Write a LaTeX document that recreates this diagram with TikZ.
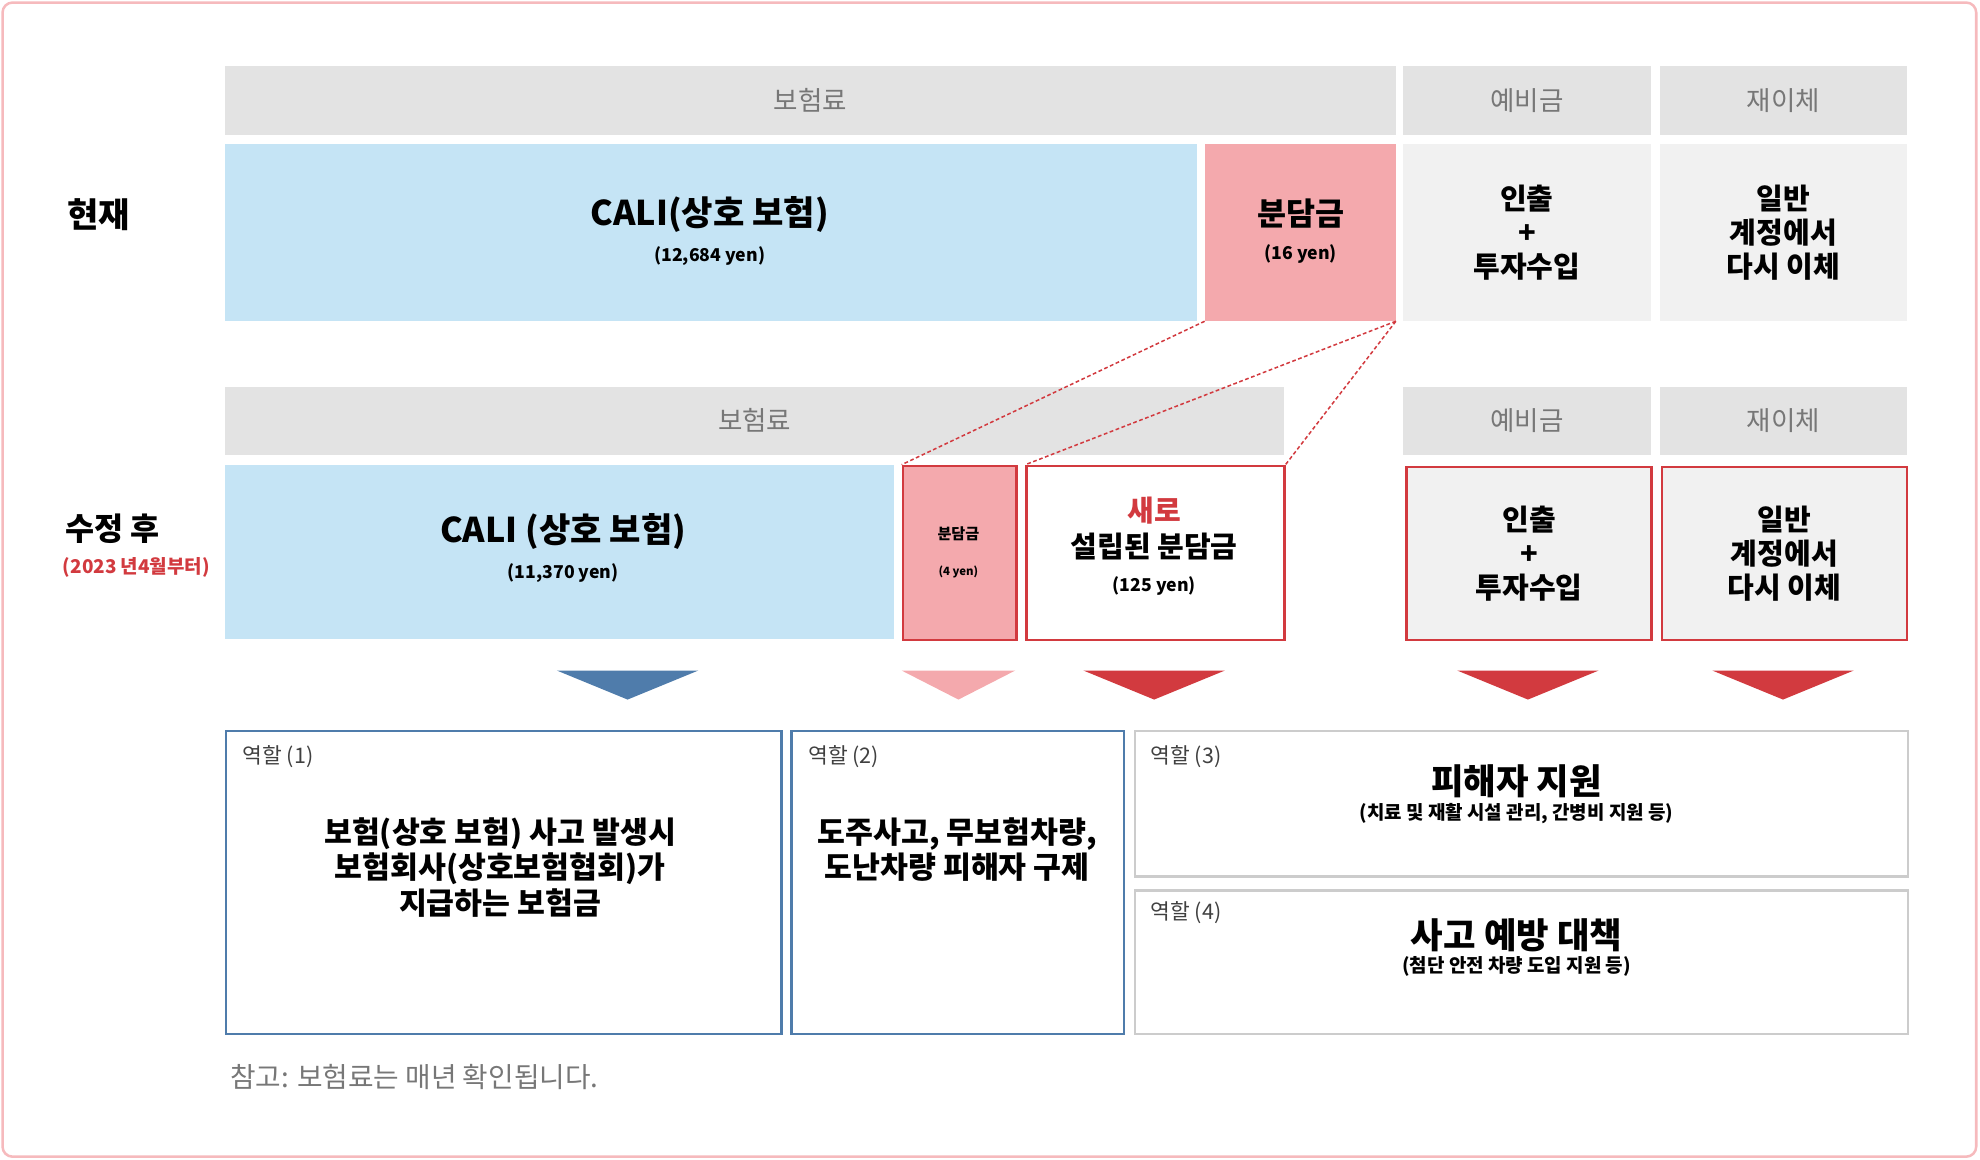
\documentclass[tikz,border=0pt]{standalone}
\usepackage{fontspec}
\setmainfont{Noto Sans CJK KR}
\begin{document}
\begin{tikzpicture}[x=1pt,y=-1pt,
 bx/.style={anchor=north west,inner sep=0pt,align=center,draw=none},
 hdr/.style={bx,fill=hdrgray,text=txtgray,font=\fontsize{21}{23}\selectfont},
 lbl/.style={font=\bfseries\fontsize{23}{27}\selectfont,align=center,inner sep=0pt},
 sm/.style={font=\bfseries\fontsize{14}{16}\selectfont,inner sep=0pt},
 role/.style={anchor=north west,font=\fontsize{17}{19}\selectfont,text=black!75,inner sep=0pt}]
\definecolor{hdrgray}{HTML}{E3E3E3}
\definecolor{lgray}{HTML}{F1F1F1}
\definecolor{txtgray}{HTML}{777777}
\definecolor{cblue}{HTML}{C5E4F5}
\definecolor{cpink}{HTML}{F4A9AD}
\definecolor{cred}{HTML}{D23A3F}
\definecolor{dblue}{HTML}{4F7CAB}
\definecolor{bgray}{HTML}{CCCCCC}
\useasboundingbox (0,0) rectangle (1568,918);
\draw[draw=cpink!80,line width=2pt,rounded corners=8pt] (2,2) rectangle (1565,916);
% row 1
\node[hdr,minimum width=927,minimum height=55] (h1) at (178,52) {보험료};
\node[hdr,minimum width=196,minimum height=55] (h2) at (1111,52) {예비금};
\node[hdr,minimum width=196,minimum height=55] (h3) at (1314,52) {재이체};
\node[bx,fill=cblue,minimum width=770,minimum height=140] (a1) at (178,114) {};
\node[lbl,font=\bfseries\fontsize{27}{30}\selectfont] (a1t) at (562,170) {CALI(상호 보험)};
\node[sm] (a1s) at (562,203) {(12,684 yen)};
\node[bx,fill=cpink,minimum width=151,minimum height=140] (b1) at (954,114) {};
\node[lbl,font=\bfseries\fontsize{25}{28}\selectfont] (b1t) at (1030,169) {분담금};
\node[sm] (b1s) at (1030,201) {(16 yen)};
\node[bx,fill=lgray,minimum width=196,minimum height=140,lbl] (c1) at (1111,114) {인출\\+\\투자수입};
\node[bx,fill=lgray,minimum width=196,minimum height=140,lbl] (d1) at (1314,114) {일반\\계정에서\\다시 이체};
\node[lbl,font=\bfseries\fontsize{27}{30}\selectfont] (now) at (78,170) {현재};
% row 2
\node[hdr,minimum width=839,minimum height=54] (h4) at (178,306) {보험료};
\node[hdr,minimum width=196,minimum height=54] (h5) at (1111,306) {예비금};
\node[hdr,minimum width=196,minimum height=54] (h6) at (1314,306) {재이체};
\node[bx,fill=cblue,minimum width=530,minimum height=138] (a2) at (178,368) {};
\node[lbl,font=\bfseries\fontsize{27}{30}\selectfont] (a2t) at (446,421) {CALI (상호 보험)};
\node[sm] (a2s) at (446,454) {(11,370 yen)};
\node[bx,fill=cpink,draw=cred,line width=2pt,minimum width=90,minimum height=138] (b2) at (714,368) {};
\node[sm,font=\bfseries\fontsize{12}{14}\selectfont] (b2t) at (759,423) {분담금};
\node[sm,font=\bfseries\fontsize{9}{10}\selectfont] (b2s) at (759,453) {(4 yen)};
\node[bx,fill=white,draw=cred,line width=2pt,minimum width=204,minimum height=138] (e2) at (812,368) {};
\node[lbl,text=cred] (e2a) at (914,404) {새로};
\node[lbl] (e2b) at (914,433) {설립된 분담금};
\node[sm] (e2s) at (914,464) {(125 yen)};
\node[bx,fill=lgray,draw=cred,line width=2pt,minimum width=194,minimum height=137,lbl] (c2) at (1113,369) {인출\\+\\투자수입};
\node[bx,fill=lgray,draw=cred,line width=2pt,minimum width=194,minimum height=137,lbl] (d2) at (1315,369) {일반\\계정에서\\다시 이체};
\node[lbl,font=\bfseries\fontsize{25}{28}\selectfont] (after) at (89,419) {수정 후};
\node[sm,text=cred,font=\bfseries\fontsize{15}{16}\selectfont] (after2) at (108,449) {(2023 년4월부터)};
% dotted
\draw[cred,dash pattern=on 3pt off 2pt,line width=1.2pt] (b1.south west) -- (b2.north west);
\draw[cred,dash pattern=on 3pt off 2pt,line width=1.2pt] (b1.south east) -- (e2.north west);
\draw[cred,dash pattern=on 3pt off 2pt,line width=1.2pt] (b1.south east) -- (e2.north east);
% triangles
\fill[dblue] (441,531) -- (553,531) -- (497,554) -- cycle;
\fill[cpink] (714,531) -- (804,531) -- (759,554) -- cycle;
\fill[cred] (858,531) -- (970,531) -- (914,554) -- cycle;
\fill[cred] (1154,531) -- (1266,531) -- (1210,554) -- cycle;
\fill[cred] (1356,531) -- (1468,531) -- (1412,554) -- cycle;
% roles
\node[bx,draw=dblue,line width=2pt,minimum width=440,minimum height=240] (r1) at (178,578) {};
\node[role] (r1l) at (192,590) {역할 (1)};
\node[lbl,font=\bfseries\fontsize{24}{28}\selectfont] (r1t) at (396,687) {보험(상호 보험) 사고 발생시\\보험회사(상호보험협회)가\\지급하는 보험금};
\node[bx,draw=dblue,line width=2pt,minimum width=263,minimum height=240] (r2) at (626,578) {};
\node[role] (r2l) at (640,590) {역할 (2)};
\node[lbl,font=\bfseries\fontsize{24}{28}\selectfont] (r2t) at (758,673) {도주사고, 무보험차량,\\도난차량 피해자 구제};
\node[bx,draw=bgray,line width=2pt,minimum width=612,minimum height=115] (r3) at (898,578) {};
\node[role] (r3l) at (911,590) {역할 (3)};
\node[lbl,font=\bfseries\fontsize{28}{30}\selectfont] (r3t) at (1201,619) {피해자 지원};
\node[sm,font=\bfseries\fontsize{15}{16}\selectfont] (r3s) at (1201,644) {(치료 및 재활 시설 관리, 간병비 지원 등)};
\node[bx,draw=bgray,line width=2pt,minimum width=612,minimum height=114] (r4) at (898,704) {};
\node[role] (r4l) at (911,714) {역할 (4)};
\node[lbl,font=\bfseries\fontsize{28}{30}\selectfont] (r4t) at (1201,741) {사고 예방 대책};
\node[sm,font=\bfseries\fontsize{15}{16}\selectfont] (r4s) at (1201,765) {(첨단 안전 차량 도입 지원 등)};
\node[anchor=west,text=txtgray,font=\fontsize{22}{24}\selectfont,inner sep=0pt] (note) at (182,853) {참고: 보험료는 매년 확인됩니다.};
\end{tikzpicture}
\end{document}
